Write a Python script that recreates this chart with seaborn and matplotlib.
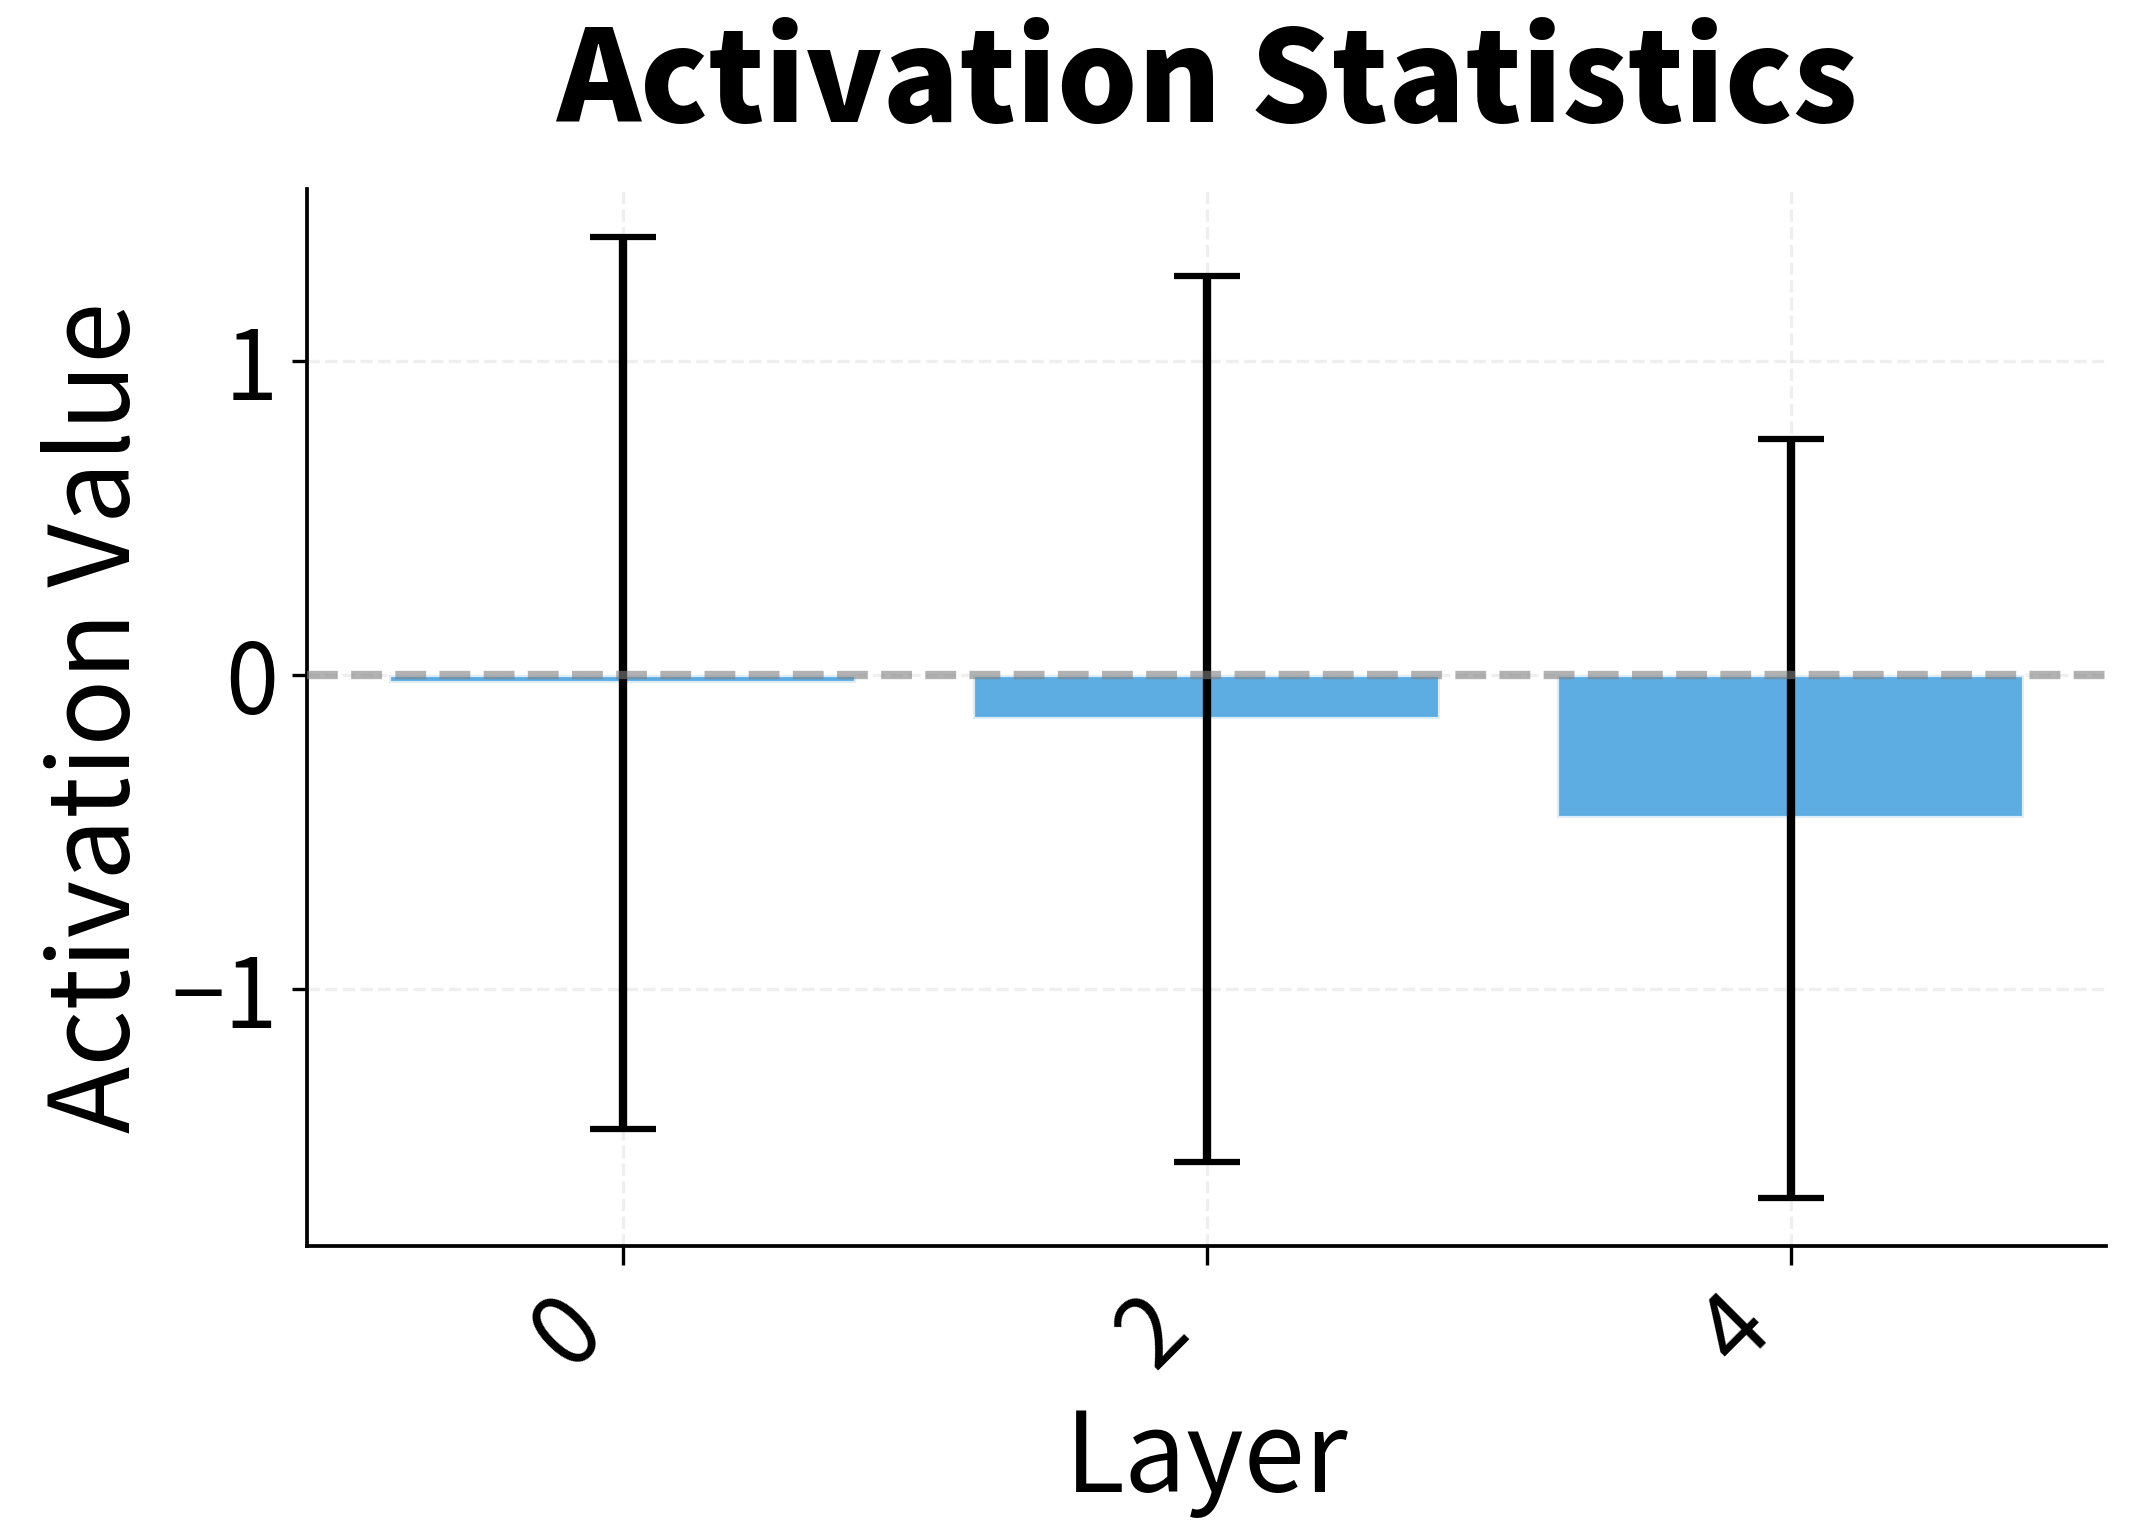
import matplotlib
matplotlib.use("Agg")
import matplotlib.pyplot as plt
import seaborn as sns
import pandas as pd

layers = ["0", "2", "4"]
means = [-0.025, -0.14, -0.455]
stds = [1.42, 1.41, 1.207]

sns.set_style("ticks")
plt.rcParams['font.family'] = ['Noto Sans CJK JP', 'DejaVu Sans']
plt.rcParams['axes.unicode_minus'] = True
plt.rcParams['text.color'] = 'black'
plt.rcParams['axes.labelcolor'] = 'black'
plt.rcParams['xtick.color'] = 'black'
plt.rcParams['ytick.color'] = 'black'

df = pd.DataFrame({"Layer": layers, "Mean": means})

fig = plt.figure(figsize=(2134/300, 1534/300), dpi=300)
ax = fig.add_axes([0.144, 0.188, 0.843, 0.689])

sns.barplot(data=df, x="Layer", y="Mean", color="#3498db", alpha=0.8,
            saturation=1, errorbar=None, width=0.8, ax=ax, zorder=2)
pos = list(range(len(layers)))
ax.errorbar(pos, means, yerr=stds, fmt="none", ecolor="black",
            elinewidth=2, capsize=8, capthick=1.5, zorder=3)
ax.axhline(0, color="gray", linestyle="--", linewidth=2, alpha=0.6, zorder=4)

ax.grid(True, linestyle="--", alpha=0.3, linewidth=0.8)
ax.set_axisbelow(True)
sns.despine(ax=ax)
for s in ["left", "bottom"]:
    ax.spines[s].set_linewidth(0.9)
    ax.spines[s].set_color("black")

ax.set_title("Activation Statistics", fontsize=30.5, fontweight="black", pad=16)
ax.set_xlabel("Layer", fontsize=26.5)
ax.set_ylabel("Activation Value", fontsize=26.5)
ax.tick_params(axis="both", labelsize=23, width=0.8, color="black")
ax.tick_params(axis="x", length=4.5)
plt.setp(ax.get_xticklabels(), rotation=45, ha="right")

fig.savefig("out.png", dpi=300)
